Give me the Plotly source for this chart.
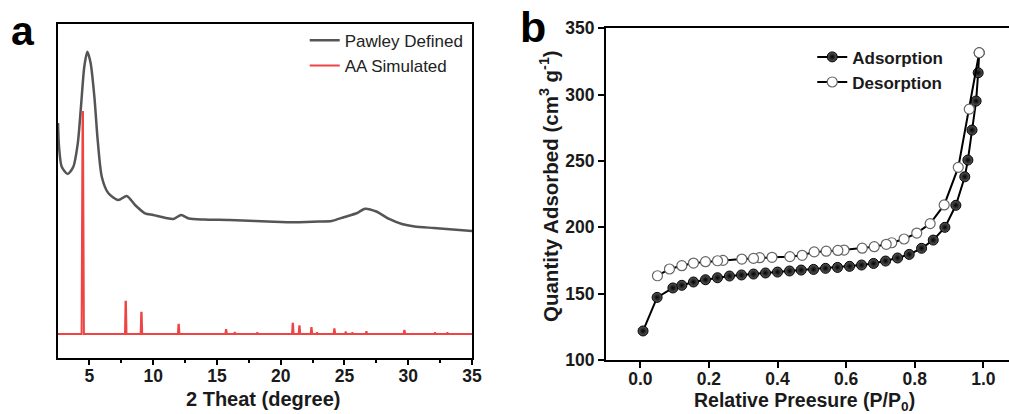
import plotly.graph_objects as go

# ---------------- Panel a data ----------------
# Pawley defined profile (2theta in degree, intensity a.u.)
pawley_x = [2.54, 2.62, 2.83, 3.3, 3.74, 4.09, 4.34, 4.6, 4.84, 5.1, 5.39, 5.65, 5.97, 6.49,
            7.27, 7.93, 8.58, 9.36, 10.0, 11.0, 11.6, 12.2, 12.8, 14.0, 16.0, 18.0, 20.0, 21.0,
            22.0, 23.0, 24.0, 25.0, 26.0, 26.6, 27.5, 28.5, 29.5, 30.5, 32.0, 33.5, 35.0]
pawley_y = [211, 187.3, 167.3, 160, 167.3, 190.7, 227.3, 267.3, 282.3, 270.7, 237.3, 194, 157.3,
            140.7, 134, 138, 129, 120.7, 119, 116, 115, 119, 115.5, 114.5, 114, 113, 112, 111.8,
            112, 112.5, 113, 117, 121, 125.3, 122.5, 115, 110, 107.5, 106, 104.5, 103]

# AA simulated reflections (position, relative height)
peak_pos = [4.48, 7.85, 9.08, 12.0, 15.72, 16.4, 18.17, 20.95, 21.47, 22.41, 22.85, 24.21,
            25.1, 25.62, 26.72, 29.7, 32.1, 33.07]
peak_h = [222, 32.3, 21.3, 9.3, 4.0, 1.3, 1.0, 10.3, 7.7, 6.0, 1.0, 4.7, 1.7, 1.0, 2.0, 3.3, 1.0, 1.0]

# ---------------- Panel b data ----------------
ads_x = [0.008, 0.049, 0.095, 0.121, 0.155, 0.19, 0.225, 0.26, 0.295, 0.33, 0.365, 0.40, 0.435,
         0.469, 0.505, 0.54, 0.575, 0.61, 0.645, 0.68, 0.715, 0.75, 0.784, 0.82, 0.854, 0.888,
         0.92, 0.946, 0.955, 0.967, 0.979, 0.985]
ads_y = [121.9, 147.2, 154.3, 156.3, 158.8, 160.5, 162.0, 163.3, 164.1, 164.8, 165.6, 166.3,
         167.1, 167.8, 168.3, 169.1, 169.8, 170.6, 171.6, 172.8, 174.6, 176.9, 179.6, 184.2,
         190.4, 200.0, 216.6, 238.1, 250.7, 273.3, 295.2, 316.5]

des_x = [0.988, 0.959, 0.927, 0.886, 0.845, 0.806, 0.769, 0.733, 0.717, 0.682, 0.647, 0.594,
         0.576, 0.542, 0.507, 0.472, 0.436, 0.384, 0.348, 0.33, 0.296, 0.241, 0.225, 0.19,
         0.155, 0.121, 0.085, 0.05]
des_y = [331.6, 289.1, 245.2, 216.9, 202.8, 195.7, 191.2, 188.4, 187.2, 185.4, 184.3, 182.9,
         182.6, 182.0, 181.5, 178.9, 177.9, 177.4, 177.1, 176.6, 176.1, 175.1, 174.8, 174.1,
         173.1, 171.1, 168.6, 163.5]

xa_ticks = [5, 10, 15, 20, 25, 30, 35]
xb_ticks = [0.0, 0.2, 0.4, 0.6, 0.8, 1.0]
yb_ticks = [100, 150, 200, 250, 300, 350]

# build stick profile of simulated pattern from reflections
sim_x = [2.54]
sim_y = [0]
for p, h in zip(peak_pos, peak_h):
    w = 0.09 if h > 100 else 0.06
    sim_x += [p - w, p - 0.015, p + 0.015, p + w]
    sim_y += [0, h, h, 0]
sim_x.append(35.0)
sim_y.append(0)

FONT = "Arial, Liberation Sans, sans-serif"
fig = go.Figure()

fig.add_trace(go.Scatter(x=pawley_x, y=pawley_y, mode="lines", name="Pawley Defined",
                         line=dict(color="#555555", width=2.5, shape="spline", smoothing=0.7),
                         xaxis="x", yaxis="y", legend="legend"))
fig.add_trace(go.Scatter(x=sim_x, y=sim_y, mode="lines", name="AA Simulated",
                         line=dict(color="#ee4444", width=2),
                         xaxis="x", yaxis="y", legend="legend"))

fig.add_trace(go.Scatter(x=ads_x + [des_x[0]], y=ads_y + [des_y[0]], mode="lines+markers",
                         name="Adsorption",
                         line=dict(color="black", width=2),
                         marker=dict(size=10, color="#5a5a5a",
                                     gradient=dict(type="radial", color="#000000"),
                                     line=dict(color="#000000", width=1)),
                         xaxis="x2", yaxis="y2", legend="legend2"))
fig.add_trace(go.Scatter(x=des_x, y=des_y, mode="lines+markers", name="Desorption",
                         line=dict(color="black", width=2),
                         marker=dict(size=10, color="white",
                                     line=dict(color="#666666", width=1.2)),
                         xaxis="x2", yaxis="y2", legend="legend2"))

axis_common = dict(showgrid=False, zeroline=False, showline=True, linecolor="black",
                   linewidth=2, tickcolor="black", tickwidth=2,
                   tickfont=dict(family=FONT, size=17.5, color="#1a1a1a", weight="bold"),
                   automargin=False)

fig.update_layout(
    width=1009, height=414,
    margin=dict(l=0, r=0, t=0, b=0),
    paper_bgcolor="white", plot_bgcolor="white",
    xaxis=dict(domain=[0.0575, 0.4678], range=[2.54, 35], tickvals=xa_ticks, ticks="outside",
               ticklen=5, mirror=True, anchor="y", ticklabelstandoff=-4,
               minor=dict(dtick=2.5, tick0=0, ticks="outside", ticklen=3, tickwidth=1.5,
                          tickcolor="black"),
               **axis_common),
    yaxis=dict(domain=[0.1353, 0.942], range=[-24, 310], showticklabels=False, ticks="",
               mirror=True, anchor="x", **axis_common),
    xaxis2=dict(domain=[0.6006, 1.0], range=[-0.1, 1.0749], tickvals=xb_ticks,
                tickformat=".1f", ticks="outside", ticklen=6, mirror=True, anchor="y2",
                ticklabelstandoff=-4, **axis_common),
    yaxis2=dict(domain=[0.1304, 0.9316], range=[100, 350], tickvals=yb_ticks,
                ticks="outside", ticklen=6, mirror=False, anchor="x2", **axis_common),
    showlegend=True,
    legend=dict(x=0.302, y=0.945, xanchor="left", yanchor="top", bgcolor="rgba(0,0,0,0)",
                font=dict(family=FONT, size=17, color="#222222"), tracegroupgap=0,
                itemwidth=30),
    legend2=dict(x=0.805, y=0.905, xanchor="left", yanchor="top", bgcolor="rgba(0,0,0,0)",
                 font=dict(family=FONT, size=17, color="#1a1a1a", weight="bold"),
                 tracegroupgap=0),
    annotations=[
        dict(text="a", x=9 / 1009, y=1 - 6 / 414, xref="paper", yref="paper",
             xanchor="left", yanchor="top", showarrow=False,
             font=dict(family=FONT, size=41, color="black", weight="bold")),
        dict(text="b", x=518 / 1009, y=1 - 1 / 414, xref="paper", yref="paper",
             xanchor="left", yanchor="top", showarrow=False,
             font=dict(family=FONT, size=43, color="black", weight="bold")),
        dict(text="2 Theat (degree)", x=263 / 1009, y=1 - 399 / 414, xref="paper",
             yref="paper", xanchor="center", yanchor="middle", showarrow=False,
             font=dict(family=FONT, size=20, color="#1a1a1a", weight="bold")),
        dict(text="Relative Preesure (P/P<sub>0</sub>)", x=804 / 1009, y=1 - 401 / 414,
             xref="paper", yref="paper", xanchor="center", yanchor="middle", showarrow=False,
             font=dict(family=FONT, size=19.5, color="#1a1a1a", weight="bold")),
        dict(text="Quantity Adsorbed (cm<sup>3</sup> g<sup>-1</sup>)", x=549 / 1009,
             y=1 - 186 / 414, xref="paper", yref="paper", xanchor="center", yanchor="middle",
             textangle=-90, showarrow=False,
             font=dict(family=FONT, size=20.5, color="#1a1a1a", weight="bold")),
    ],
)

fig.write_html("out.html")
